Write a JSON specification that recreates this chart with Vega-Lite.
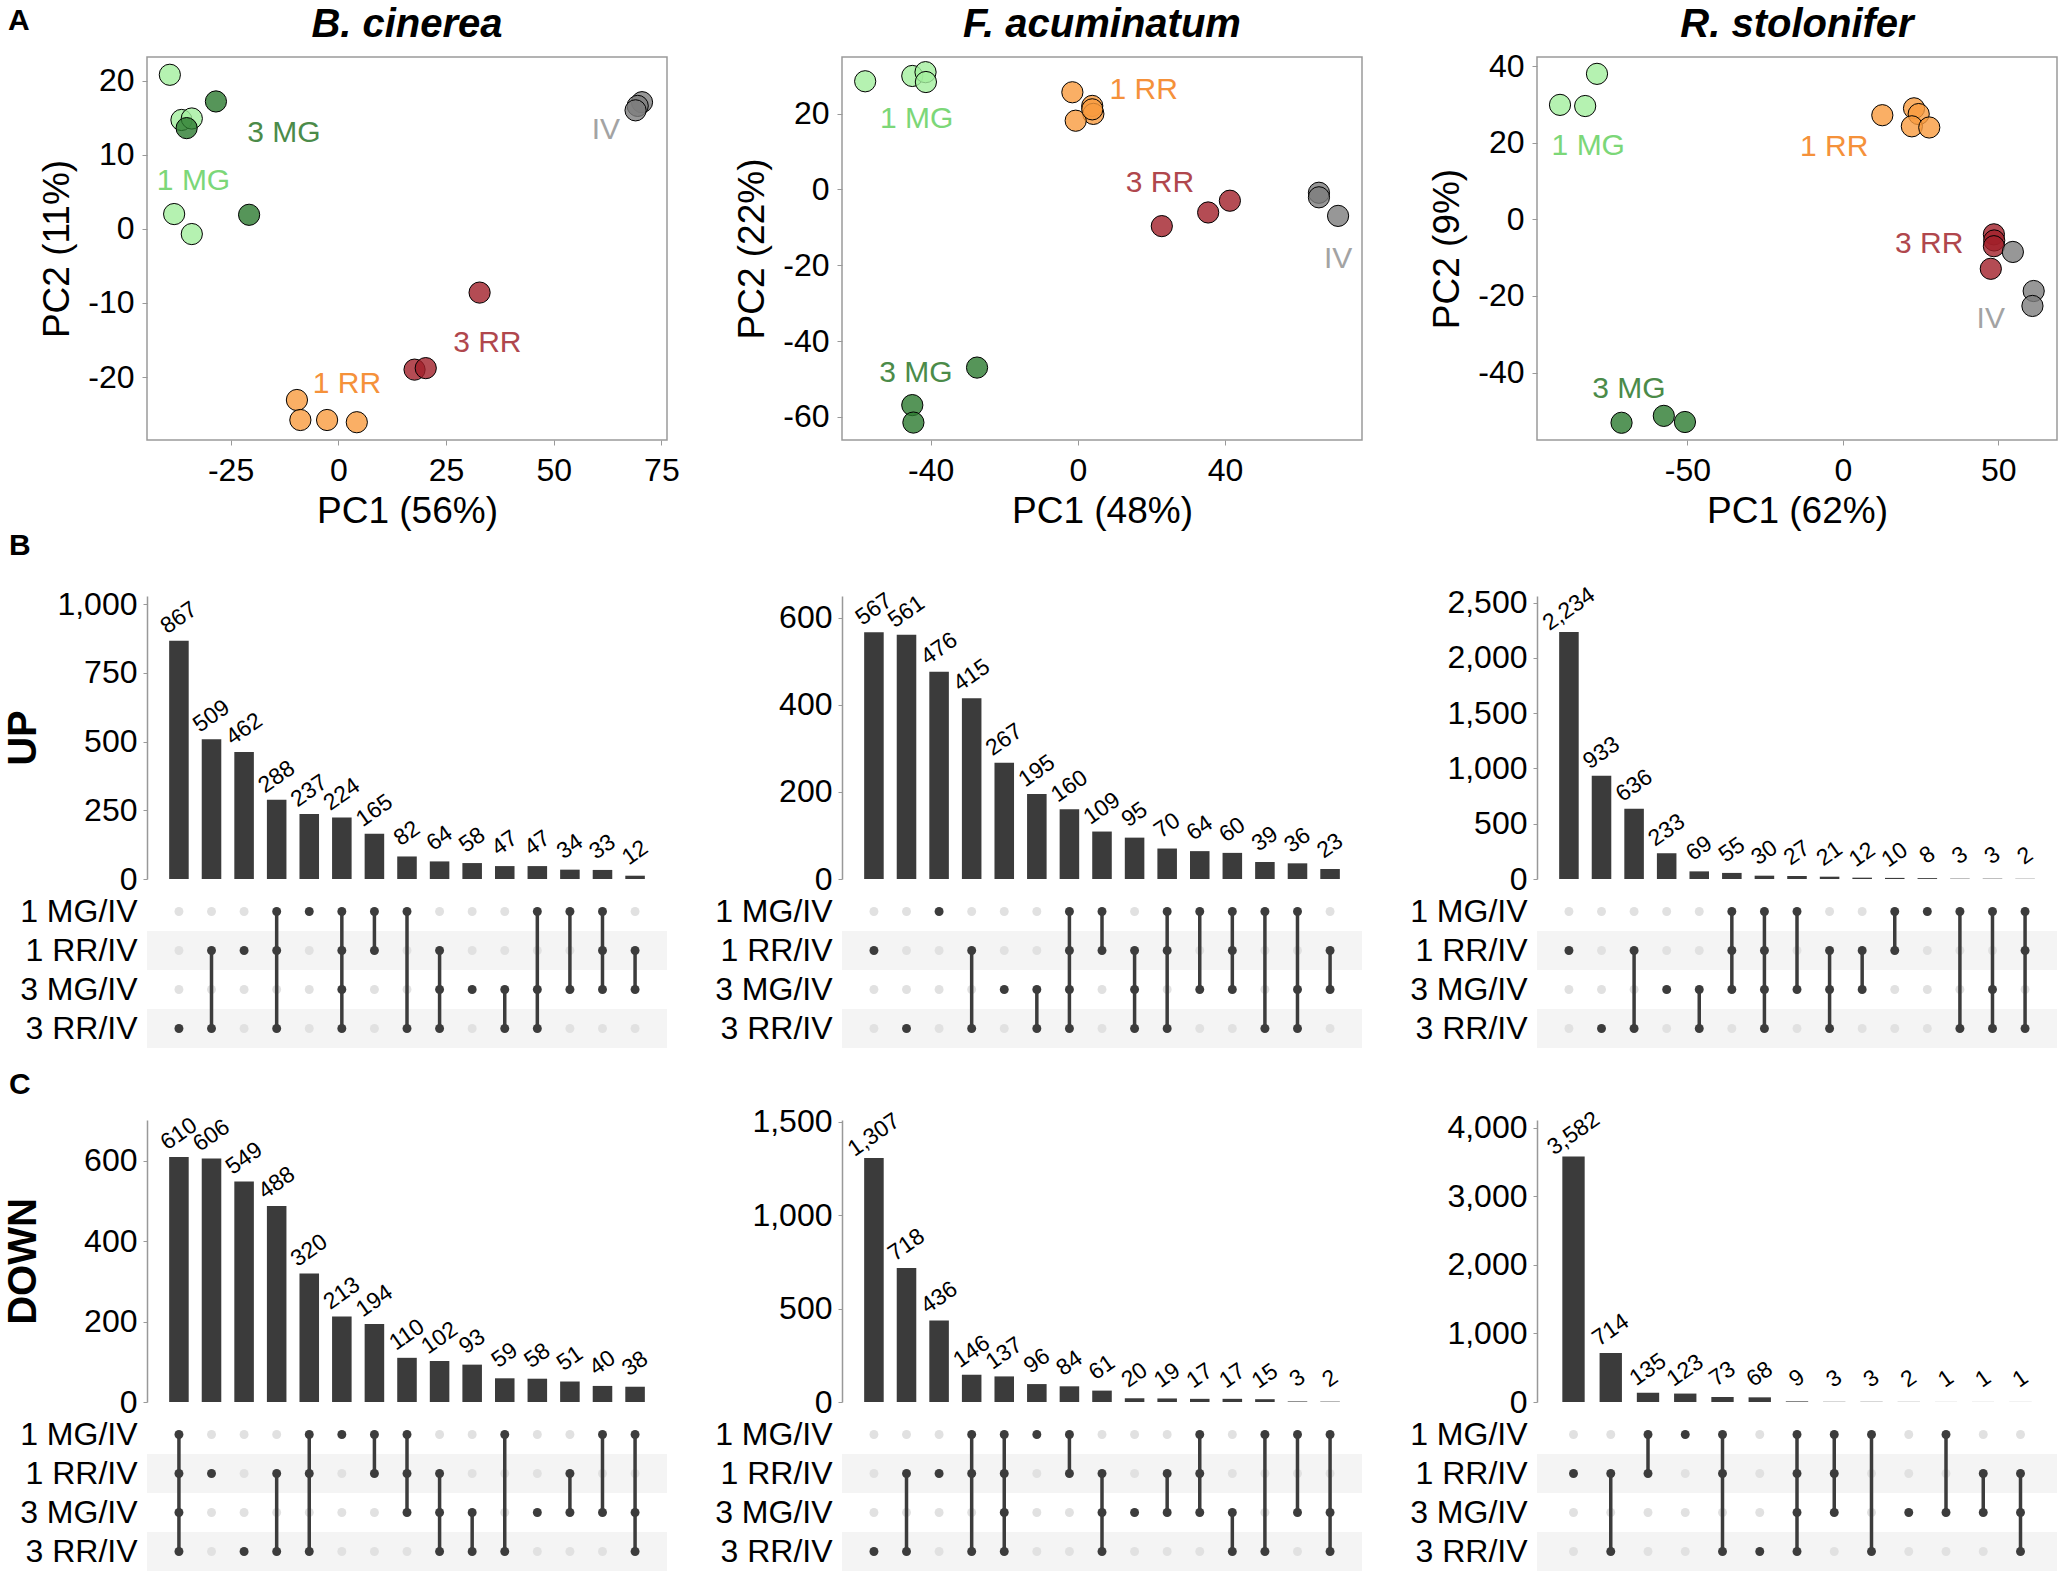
{
"$schema": "https://vega.github.io/schema/vega-lite/v6.json",
"background": "white",
"padding": {"left": 3, "top": 4, "right": 5, "bottom": 2},
"config": {
 "font": "Liberation Sans",
 "locale": {"number": {"decimal": ".", "thousands": ",", "grouping": [3], "currency": ["$", ""], "minus": "-"}},
 "view": {"stroke": null},
 "axis": {"labelColor": "black", "titleColor": "black", "grid": false, "tickColor": "#999999", "domainColor": "#999999", "labelFont": "Liberation Sans", "titleFont": "Liberation Sans", "titleFontWeight": "normal"},
 "title": {"font": "Liberation Sans", "color": "black"}
},
"datasets": {
 "stripes": [{"row": "1 RR/IV"}, {"row": "3 RR/IV"}],
 "pca": [
  {"sp":"Bc","grp":"1 MG","x":-39.1,"y":20.8},{"sp":"Bc","grp":"1 MG","x":-36.4,"y":14.7},{"sp":"Bc","grp":"1 MG","x":-34.0,"y":14.9},{"sp":"Bc","grp":"1 MG","x":-38.1,"y":2.0},{"sp":"Bc","grp":"1 MG","x":-34.0,"y":-0.7},
  {"sp":"Bc","grp":"3 MG","x":-28.4,"y":17.2},{"sp":"Bc","grp":"3 MG","x":-35.2,"y":13.6},{"sp":"Bc","grp":"3 MG","x":-20.7,"y":1.9},
  {"sp":"Bc","grp":"1 RR","x":-9.6,"y":-23.1},{"sp":"Bc","grp":"1 RR","x":-8.8,"y":-25.8},{"sp":"Bc","grp":"1 RR","x":-2.6,"y":-25.8},{"sp":"Bc","grp":"1 RR","x":4.3,"y":-26.1},
  {"sp":"Bc","grp":"3 RR","x":32.8,"y":-8.6},{"sp":"Bc","grp":"3 RR","x":17.7,"y":-19.0},{"sp":"Bc","grp":"3 RR","x":20.3,"y":-18.8},
  {"sp":"Bc","grp":"IV","x":70.5,"y":17.1},{"sp":"Bc","grp":"IV","x":69.5,"y":16.6},{"sp":"Bc","grp":"IV","x":69.0,"y":16.0},
  {"sp":"Fa","grp":"1 MG","x":-57.8,"y":28.5},{"sp":"Fa","grp":"1 MG","x":-45.0,"y":29.9},{"sp":"Fa","grp":"1 MG","x":-41.4,"y":30.9},{"sp":"Fa","grp":"1 MG","x":-41.3,"y":28.3},
  {"sp":"Fa","grp":"1 RR","x":-1.5,"y":25.6},{"sp":"Fa","grp":"1 RR","x":3.9,"y":22.0},{"sp":"Fa","grp":"1 RR","x":4.2,"y":19.9},{"sp":"Fa","grp":"1 RR","x":-0.6,"y":18.1},{"sp":"Fa","grp":"1 RR","x":3.9,"y":21.1},
  {"sp":"Fa","grp":"3 RR","x":22.8,"y":-9.7},{"sp":"Fa","grp":"3 RR","x":35.4,"y":-6.1},{"sp":"Fa","grp":"3 RR","x":41.3,"y":-3.0},
  {"sp":"Fa","grp":"IV","x":65.5,"y":-0.9},{"sp":"Fa","grp":"IV","x":65.5,"y":-2.1},{"sp":"Fa","grp":"IV","x":70.7,"y":-7.0},
  {"sp":"Fa","grp":"3 MG","x":-27.4,"y":-47.0},{"sp":"Fa","grp":"3 MG","x":-45.0,"y":-56.9},{"sp":"Fa","grp":"3 MG","x":-44.7,"y":-61.5},
  {"sp":"Rs","grp":"1 MG","x":-79.1,"y":38.0},{"sp":"Rs","grp":"1 MG","x":-91.0,"y":29.9},{"sp":"Rs","grp":"1 MG","x":-82.9,"y":29.6},
  {"sp":"Rs","grp":"1 RR","x":12.7,"y":27.2},{"sp":"Rs","grp":"1 RR","x":22.9,"y":29.0},{"sp":"Rs","grp":"1 RR","x":24.4,"y":27.5},{"sp":"Rs","grp":"1 RR","x":22.2,"y":24.3},{"sp":"Rs","grp":"1 RR","x":27.8,"y":24.0},
  {"sp":"Rs","grp":"3 RR","x":48.6,"y":-3.9},{"sp":"Rs","grp":"3 RR","x":48.7,"y":-5.5},{"sp":"Rs","grp":"3 RR","x":48.6,"y":-7.0},{"sp":"Rs","grp":"3 RR","x":47.6,"y":-12.9},
  {"sp":"Rs","grp":"IV","x":54.7,"y":-8.5},{"sp":"Rs","grp":"IV","x":61.4,"y":-18.7},{"sp":"Rs","grp":"IV","x":61.0,"y":-22.6},
  {"sp":"Rs","grp":"3 MG","x":-71.2,"y":-53.1},{"sp":"Rs","grp":"3 MG","x":-57.6,"y":-51.3},{"sp":"Rs","grp":"3 MG","x":-50.8,"y":-52.9}
 ],
 "pcalab": [
  {"sp":"Bc","grp":"3 MG","x":-12.6,"y":13.0},{"sp":"Bc","grp":"1 MG","x":-33.6,"y":6.5},{"sp":"Bc","grp":"IV","x":62.1,"y":13.4},{"sp":"Bc","grp":"3 RR","x":34.6,"y":-15.4},{"sp":"Bc","grp":"1 RR","x":2.0,"y":-21.0},
  {"sp":"Fa","grp":"1 RR","x":17.9,"y":26.3},{"sp":"Fa","grp":"1 MG","x":-43.8,"y":18.6},{"sp":"Fa","grp":"3 RR","x":22.3,"y":1.6},{"sp":"Fa","grp":"IV","x":70.7,"y":-18.3},{"sp":"Fa","grp":"3 MG","x":-44.0,"y":-48.3},
  {"sp":"Rs","grp":"1 MG","x":-81.9,"y":19.2},{"sp":"Rs","grp":"1 RR","x":-2.8,"y":18.9},{"sp":"Rs","grp":"3 RR","x":27.8,"y":-6.4},{"sp":"Rs","grp":"IV","x":47.6,"y":-25.9},{"sp":"Rs","grp":"3 MG","x":-68.8,"y":-44.2}
 ],
 "ups": [
  {"sp":"Bc","dir":"UP","col":1,"n":867,"1 MG/IV":0,"1 RR/IV":0,"3 MG/IV":0,"3 RR/IV":1,"lo":"3 RR/IV","hi":"3 RR/IV"},
  {"sp":"Bc","dir":"UP","col":2,"n":509,"1 MG/IV":0,"1 RR/IV":1,"3 MG/IV":0,"3 RR/IV":1,"lo":"1 RR/IV","hi":"3 RR/IV"},
  {"sp":"Bc","dir":"UP","col":3,"n":462,"1 MG/IV":0,"1 RR/IV":1,"3 MG/IV":0,"3 RR/IV":0,"lo":"1 RR/IV","hi":"1 RR/IV"},
  {"sp":"Bc","dir":"UP","col":4,"n":288,"1 MG/IV":1,"1 RR/IV":1,"3 MG/IV":0,"3 RR/IV":1,"lo":"1 MG/IV","hi":"3 RR/IV"},
  {"sp":"Bc","dir":"UP","col":5,"n":237,"1 MG/IV":1,"1 RR/IV":0,"3 MG/IV":0,"3 RR/IV":0,"lo":"1 MG/IV","hi":"1 MG/IV"},
  {"sp":"Bc","dir":"UP","col":6,"n":224,"1 MG/IV":1,"1 RR/IV":1,"3 MG/IV":1,"3 RR/IV":1,"lo":"1 MG/IV","hi":"3 RR/IV"},
  {"sp":"Bc","dir":"UP","col":7,"n":165,"1 MG/IV":1,"1 RR/IV":1,"3 MG/IV":0,"3 RR/IV":0,"lo":"1 MG/IV","hi":"1 RR/IV"},
  {"sp":"Bc","dir":"UP","col":8,"n":82,"1 MG/IV":1,"1 RR/IV":0,"3 MG/IV":0,"3 RR/IV":1,"lo":"1 MG/IV","hi":"3 RR/IV"},
  {"sp":"Bc","dir":"UP","col":9,"n":64,"1 MG/IV":0,"1 RR/IV":1,"3 MG/IV":1,"3 RR/IV":1,"lo":"1 RR/IV","hi":"3 RR/IV"},
  {"sp":"Bc","dir":"UP","col":10,"n":58,"1 MG/IV":0,"1 RR/IV":0,"3 MG/IV":1,"3 RR/IV":0,"lo":"3 MG/IV","hi":"3 MG/IV"},
  {"sp":"Bc","dir":"UP","col":11,"n":47,"1 MG/IV":0,"1 RR/IV":0,"3 MG/IV":1,"3 RR/IV":1,"lo":"3 MG/IV","hi":"3 RR/IV"},
  {"sp":"Bc","dir":"UP","col":12,"n":47,"1 MG/IV":1,"1 RR/IV":0,"3 MG/IV":1,"3 RR/IV":1,"lo":"1 MG/IV","hi":"3 RR/IV"},
  {"sp":"Bc","dir":"UP","col":13,"n":34,"1 MG/IV":1,"1 RR/IV":0,"3 MG/IV":1,"3 RR/IV":0,"lo":"1 MG/IV","hi":"3 MG/IV"},
  {"sp":"Bc","dir":"UP","col":14,"n":33,"1 MG/IV":1,"1 RR/IV":1,"3 MG/IV":1,"3 RR/IV":0,"lo":"1 MG/IV","hi":"3 MG/IV"},
  {"sp":"Bc","dir":"UP","col":15,"n":12,"1 MG/IV":0,"1 RR/IV":1,"3 MG/IV":1,"3 RR/IV":0,"lo":"1 RR/IV","hi":"3 MG/IV"},
  {"sp":"Fa","dir":"UP","col":1,"n":567,"1 MG/IV":0,"1 RR/IV":1,"3 MG/IV":0,"3 RR/IV":0,"lo":"1 RR/IV","hi":"1 RR/IV"},
  {"sp":"Fa","dir":"UP","col":2,"n":561,"1 MG/IV":0,"1 RR/IV":0,"3 MG/IV":0,"3 RR/IV":1,"lo":"3 RR/IV","hi":"3 RR/IV"},
  {"sp":"Fa","dir":"UP","col":3,"n":476,"1 MG/IV":1,"1 RR/IV":0,"3 MG/IV":0,"3 RR/IV":0,"lo":"1 MG/IV","hi":"1 MG/IV"},
  {"sp":"Fa","dir":"UP","col":4,"n":415,"1 MG/IV":0,"1 RR/IV":1,"3 MG/IV":0,"3 RR/IV":1,"lo":"1 RR/IV","hi":"3 RR/IV"},
  {"sp":"Fa","dir":"UP","col":5,"n":267,"1 MG/IV":0,"1 RR/IV":0,"3 MG/IV":1,"3 RR/IV":0,"lo":"3 MG/IV","hi":"3 MG/IV"},
  {"sp":"Fa","dir":"UP","col":6,"n":195,"1 MG/IV":0,"1 RR/IV":0,"3 MG/IV":1,"3 RR/IV":1,"lo":"3 MG/IV","hi":"3 RR/IV"},
  {"sp":"Fa","dir":"UP","col":7,"n":160,"1 MG/IV":1,"1 RR/IV":1,"3 MG/IV":1,"3 RR/IV":1,"lo":"1 MG/IV","hi":"3 RR/IV"},
  {"sp":"Fa","dir":"UP","col":8,"n":109,"1 MG/IV":1,"1 RR/IV":1,"3 MG/IV":0,"3 RR/IV":0,"lo":"1 MG/IV","hi":"1 RR/IV"},
  {"sp":"Fa","dir":"UP","col":9,"n":95,"1 MG/IV":0,"1 RR/IV":1,"3 MG/IV":1,"3 RR/IV":1,"lo":"1 RR/IV","hi":"3 RR/IV"},
  {"sp":"Fa","dir":"UP","col":10,"n":70,"1 MG/IV":1,"1 RR/IV":1,"3 MG/IV":0,"3 RR/IV":1,"lo":"1 MG/IV","hi":"3 RR/IV"},
  {"sp":"Fa","dir":"UP","col":11,"n":64,"1 MG/IV":1,"1 RR/IV":0,"3 MG/IV":1,"3 RR/IV":0,"lo":"1 MG/IV","hi":"3 MG/IV"},
  {"sp":"Fa","dir":"UP","col":12,"n":60,"1 MG/IV":1,"1 RR/IV":1,"3 MG/IV":1,"3 RR/IV":0,"lo":"1 MG/IV","hi":"3 MG/IV"},
  {"sp":"Fa","dir":"UP","col":13,"n":39,"1 MG/IV":1,"1 RR/IV":0,"3 MG/IV":0,"3 RR/IV":1,"lo":"1 MG/IV","hi":"3 RR/IV"},
  {"sp":"Fa","dir":"UP","col":14,"n":36,"1 MG/IV":1,"1 RR/IV":0,"3 MG/IV":1,"3 RR/IV":1,"lo":"1 MG/IV","hi":"3 RR/IV"},
  {"sp":"Fa","dir":"UP","col":15,"n":23,"1 MG/IV":0,"1 RR/IV":1,"3 MG/IV":1,"3 RR/IV":0,"lo":"1 RR/IV","hi":"3 MG/IV"},
  {"sp":"Rs","dir":"UP","col":1,"n":2234,"1 MG/IV":0,"1 RR/IV":1,"3 MG/IV":0,"3 RR/IV":0,"lo":"1 RR/IV","hi":"1 RR/IV"},
  {"sp":"Rs","dir":"UP","col":2,"n":933,"1 MG/IV":0,"1 RR/IV":0,"3 MG/IV":0,"3 RR/IV":1,"lo":"3 RR/IV","hi":"3 RR/IV"},
  {"sp":"Rs","dir":"UP","col":3,"n":636,"1 MG/IV":0,"1 RR/IV":1,"3 MG/IV":0,"3 RR/IV":1,"lo":"1 RR/IV","hi":"3 RR/IV"},
  {"sp":"Rs","dir":"UP","col":4,"n":233,"1 MG/IV":0,"1 RR/IV":0,"3 MG/IV":1,"3 RR/IV":0,"lo":"3 MG/IV","hi":"3 MG/IV"},
  {"sp":"Rs","dir":"UP","col":5,"n":69,"1 MG/IV":0,"1 RR/IV":0,"3 MG/IV":1,"3 RR/IV":1,"lo":"3 MG/IV","hi":"3 RR/IV"},
  {"sp":"Rs","dir":"UP","col":6,"n":55,"1 MG/IV":1,"1 RR/IV":1,"3 MG/IV":1,"3 RR/IV":0,"lo":"1 MG/IV","hi":"3 MG/IV"},
  {"sp":"Rs","dir":"UP","col":7,"n":30,"1 MG/IV":1,"1 RR/IV":1,"3 MG/IV":1,"3 RR/IV":1,"lo":"1 MG/IV","hi":"3 RR/IV"},
  {"sp":"Rs","dir":"UP","col":8,"n":27,"1 MG/IV":1,"1 RR/IV":0,"3 MG/IV":1,"3 RR/IV":0,"lo":"1 MG/IV","hi":"3 MG/IV"},
  {"sp":"Rs","dir":"UP","col":9,"n":21,"1 MG/IV":0,"1 RR/IV":1,"3 MG/IV":1,"3 RR/IV":1,"lo":"1 RR/IV","hi":"3 RR/IV"},
  {"sp":"Rs","dir":"UP","col":10,"n":12,"1 MG/IV":0,"1 RR/IV":1,"3 MG/IV":1,"3 RR/IV":0,"lo":"1 RR/IV","hi":"3 MG/IV"},
  {"sp":"Rs","dir":"UP","col":11,"n":10,"1 MG/IV":1,"1 RR/IV":1,"3 MG/IV":0,"3 RR/IV":0,"lo":"1 MG/IV","hi":"1 RR/IV"},
  {"sp":"Rs","dir":"UP","col":12,"n":8,"1 MG/IV":1,"1 RR/IV":0,"3 MG/IV":0,"3 RR/IV":0,"lo":"1 MG/IV","hi":"1 MG/IV"},
  {"sp":"Rs","dir":"UP","col":13,"n":3,"1 MG/IV":1,"1 RR/IV":0,"3 MG/IV":0,"3 RR/IV":1,"lo":"1 MG/IV","hi":"3 RR/IV"},
  {"sp":"Rs","dir":"UP","col":14,"n":3,"1 MG/IV":1,"1 RR/IV":0,"3 MG/IV":1,"3 RR/IV":1,"lo":"1 MG/IV","hi":"3 RR/IV"},
  {"sp":"Rs","dir":"UP","col":15,"n":2,"1 MG/IV":1,"1 RR/IV":1,"3 MG/IV":0,"3 RR/IV":1,"lo":"1 MG/IV","hi":"3 RR/IV"},
  {"sp":"Bc","dir":"DOWN","col":1,"n":610,"1 MG/IV":1,"1 RR/IV":1,"3 MG/IV":1,"3 RR/IV":1,"lo":"1 MG/IV","hi":"3 RR/IV"},
  {"sp":"Bc","dir":"DOWN","col":2,"n":606,"1 MG/IV":0,"1 RR/IV":1,"3 MG/IV":0,"3 RR/IV":0,"lo":"1 RR/IV","hi":"1 RR/IV"},
  {"sp":"Bc","dir":"DOWN","col":3,"n":549,"1 MG/IV":0,"1 RR/IV":0,"3 MG/IV":0,"3 RR/IV":1,"lo":"3 RR/IV","hi":"3 RR/IV"},
  {"sp":"Bc","dir":"DOWN","col":4,"n":488,"1 MG/IV":0,"1 RR/IV":1,"3 MG/IV":0,"3 RR/IV":1,"lo":"1 RR/IV","hi":"3 RR/IV"},
  {"sp":"Bc","dir":"DOWN","col":5,"n":320,"1 MG/IV":1,"1 RR/IV":1,"3 MG/IV":0,"3 RR/IV":1,"lo":"1 MG/IV","hi":"3 RR/IV"},
  {"sp":"Bc","dir":"DOWN","col":6,"n":213,"1 MG/IV":1,"1 RR/IV":0,"3 MG/IV":0,"3 RR/IV":0,"lo":"1 MG/IV","hi":"1 MG/IV"},
  {"sp":"Bc","dir":"DOWN","col":7,"n":194,"1 MG/IV":1,"1 RR/IV":1,"3 MG/IV":0,"3 RR/IV":0,"lo":"1 MG/IV","hi":"1 RR/IV"},
  {"sp":"Bc","dir":"DOWN","col":8,"n":110,"1 MG/IV":1,"1 RR/IV":1,"3 MG/IV":1,"3 RR/IV":0,"lo":"1 MG/IV","hi":"3 MG/IV"},
  {"sp":"Bc","dir":"DOWN","col":9,"n":102,"1 MG/IV":0,"1 RR/IV":1,"3 MG/IV":1,"3 RR/IV":1,"lo":"1 RR/IV","hi":"3 RR/IV"},
  {"sp":"Bc","dir":"DOWN","col":10,"n":93,"1 MG/IV":0,"1 RR/IV":0,"3 MG/IV":1,"3 RR/IV":1,"lo":"3 MG/IV","hi":"3 RR/IV"},
  {"sp":"Bc","dir":"DOWN","col":11,"n":59,"1 MG/IV":1,"1 RR/IV":0,"3 MG/IV":0,"3 RR/IV":1,"lo":"1 MG/IV","hi":"3 RR/IV"},
  {"sp":"Bc","dir":"DOWN","col":12,"n":58,"1 MG/IV":0,"1 RR/IV":0,"3 MG/IV":1,"3 RR/IV":0,"lo":"3 MG/IV","hi":"3 MG/IV"},
  {"sp":"Bc","dir":"DOWN","col":13,"n":51,"1 MG/IV":0,"1 RR/IV":1,"3 MG/IV":1,"3 RR/IV":0,"lo":"1 RR/IV","hi":"3 MG/IV"},
  {"sp":"Bc","dir":"DOWN","col":14,"n":40,"1 MG/IV":1,"1 RR/IV":0,"3 MG/IV":1,"3 RR/IV":0,"lo":"1 MG/IV","hi":"3 MG/IV"},
  {"sp":"Bc","dir":"DOWN","col":15,"n":38,"1 MG/IV":1,"1 RR/IV":0,"3 MG/IV":1,"3 RR/IV":1,"lo":"1 MG/IV","hi":"3 RR/IV"},
  {"sp":"Fa","dir":"DOWN","col":1,"n":1307,"1 MG/IV":0,"1 RR/IV":0,"3 MG/IV":0,"3 RR/IV":1,"lo":"3 RR/IV","hi":"3 RR/IV"},
  {"sp":"Fa","dir":"DOWN","col":2,"n":718,"1 MG/IV":0,"1 RR/IV":1,"3 MG/IV":0,"3 RR/IV":1,"lo":"1 RR/IV","hi":"3 RR/IV"},
  {"sp":"Fa","dir":"DOWN","col":3,"n":436,"1 MG/IV":0,"1 RR/IV":1,"3 MG/IV":0,"3 RR/IV":0,"lo":"1 RR/IV","hi":"1 RR/IV"},
  {"sp":"Fa","dir":"DOWN","col":4,"n":146,"1 MG/IV":1,"1 RR/IV":1,"3 MG/IV":0,"3 RR/IV":1,"lo":"1 MG/IV","hi":"3 RR/IV"},
  {"sp":"Fa","dir":"DOWN","col":5,"n":137,"1 MG/IV":1,"1 RR/IV":1,"3 MG/IV":1,"3 RR/IV":1,"lo":"1 MG/IV","hi":"3 RR/IV"},
  {"sp":"Fa","dir":"DOWN","col":6,"n":96,"1 MG/IV":1,"1 RR/IV":0,"3 MG/IV":0,"3 RR/IV":0,"lo":"1 MG/IV","hi":"1 MG/IV"},
  {"sp":"Fa","dir":"DOWN","col":7,"n":84,"1 MG/IV":1,"1 RR/IV":1,"3 MG/IV":0,"3 RR/IV":0,"lo":"1 MG/IV","hi":"1 RR/IV"},
  {"sp":"Fa","dir":"DOWN","col":8,"n":61,"1 MG/IV":0,"1 RR/IV":1,"3 MG/IV":1,"3 RR/IV":1,"lo":"1 RR/IV","hi":"3 RR/IV"},
  {"sp":"Fa","dir":"DOWN","col":9,"n":20,"1 MG/IV":0,"1 RR/IV":0,"3 MG/IV":1,"3 RR/IV":0,"lo":"3 MG/IV","hi":"3 MG/IV"},
  {"sp":"Fa","dir":"DOWN","col":10,"n":19,"1 MG/IV":0,"1 RR/IV":1,"3 MG/IV":1,"3 RR/IV":0,"lo":"1 RR/IV","hi":"3 MG/IV"},
  {"sp":"Fa","dir":"DOWN","col":11,"n":17,"1 MG/IV":1,"1 RR/IV":1,"3 MG/IV":1,"3 RR/IV":0,"lo":"1 MG/IV","hi":"3 MG/IV"},
  {"sp":"Fa","dir":"DOWN","col":12,"n":17,"1 MG/IV":0,"1 RR/IV":0,"3 MG/IV":1,"3 RR/IV":1,"lo":"3 MG/IV","hi":"3 RR/IV"},
  {"sp":"Fa","dir":"DOWN","col":13,"n":15,"1 MG/IV":1,"1 RR/IV":0,"3 MG/IV":0,"3 RR/IV":1,"lo":"1 MG/IV","hi":"3 RR/IV"},
  {"sp":"Fa","dir":"DOWN","col":14,"n":3,"1 MG/IV":1,"1 RR/IV":0,"3 MG/IV":1,"3 RR/IV":0,"lo":"1 MG/IV","hi":"3 MG/IV"},
  {"sp":"Fa","dir":"DOWN","col":15,"n":2,"1 MG/IV":1,"1 RR/IV":0,"3 MG/IV":1,"3 RR/IV":1,"lo":"1 MG/IV","hi":"3 RR/IV"},
  {"sp":"Rs","dir":"DOWN","col":1,"n":3582,"1 MG/IV":0,"1 RR/IV":1,"3 MG/IV":0,"3 RR/IV":0,"lo":"1 RR/IV","hi":"1 RR/IV"},
  {"sp":"Rs","dir":"DOWN","col":2,"n":714,"1 MG/IV":0,"1 RR/IV":1,"3 MG/IV":0,"3 RR/IV":1,"lo":"1 RR/IV","hi":"3 RR/IV"},
  {"sp":"Rs","dir":"DOWN","col":3,"n":135,"1 MG/IV":1,"1 RR/IV":1,"3 MG/IV":0,"3 RR/IV":0,"lo":"1 MG/IV","hi":"1 RR/IV"},
  {"sp":"Rs","dir":"DOWN","col":4,"n":123,"1 MG/IV":1,"1 RR/IV":0,"3 MG/IV":0,"3 RR/IV":0,"lo":"1 MG/IV","hi":"1 MG/IV"},
  {"sp":"Rs","dir":"DOWN","col":5,"n":73,"1 MG/IV":1,"1 RR/IV":1,"3 MG/IV":0,"3 RR/IV":1,"lo":"1 MG/IV","hi":"3 RR/IV"},
  {"sp":"Rs","dir":"DOWN","col":6,"n":68,"1 MG/IV":0,"1 RR/IV":0,"3 MG/IV":0,"3 RR/IV":1,"lo":"3 RR/IV","hi":"3 RR/IV"},
  {"sp":"Rs","dir":"DOWN","col":7,"n":9,"1 MG/IV":1,"1 RR/IV":1,"3 MG/IV":1,"3 RR/IV":1,"lo":"1 MG/IV","hi":"3 RR/IV"},
  {"sp":"Rs","dir":"DOWN","col":8,"n":3,"1 MG/IV":1,"1 RR/IV":1,"3 MG/IV":1,"3 RR/IV":0,"lo":"1 MG/IV","hi":"3 MG/IV"},
  {"sp":"Rs","dir":"DOWN","col":9,"n":3,"1 MG/IV":1,"1 RR/IV":0,"3 MG/IV":0,"3 RR/IV":1,"lo":"1 MG/IV","hi":"3 RR/IV"},
  {"sp":"Rs","dir":"DOWN","col":10,"n":2,"1 MG/IV":0,"1 RR/IV":0,"3 MG/IV":1,"3 RR/IV":0,"lo":"3 MG/IV","hi":"3 MG/IV"},
  {"sp":"Rs","dir":"DOWN","col":11,"n":1,"1 MG/IV":1,"1 RR/IV":0,"3 MG/IV":1,"3 RR/IV":0,"lo":"1 MG/IV","hi":"3 MG/IV"},
  {"sp":"Rs","dir":"DOWN","col":12,"n":1,"1 MG/IV":0,"1 RR/IV":1,"3 MG/IV":1,"3 RR/IV":0,"lo":"1 RR/IV","hi":"3 MG/IV"},
  {"sp":"Rs","dir":"DOWN","col":13,"n":1,"1 MG/IV":0,"1 RR/IV":1,"3 MG/IV":1,"3 RR/IV":1,"lo":"1 RR/IV","hi":"3 RR/IV"}
 ]
},
"columns": 3,
"spacing": {"row": 13, "column": 175},
"bounds": "flush",
"concat": [
 {"width": 520, "height": 1, "title": {"text": "A", "anchor": "start", "frame": "group", "orient": "top", "offset": 7, "dx": -139, "fontSize": 30, "fontWeight": "bold"}, "data": {"values": []}, "mark": "point", "encoding": {}},
 {"width": 520, "height": 1, "data": {"values": []}, "mark": "point", "encoding": {}},
 {"width": 520, "height": 1, "data": {"values": []}, "mark": "point", "encoding": {}},

 {"width": 520, "height": 383, "view": {"stroke": "#9a9a9a", "strokeWidth": 1.5},
  "title": {"text": "B. cinerea", "fontSize": 40, "fontStyle": "italic", "fontWeight": "bold", "frame": "group", "anchor": "middle", "offset": 12},
  "layer": [
   {"data": {"name": "pca"}, "transform": [{"filter": {"field": "sp", "equal": "Bc"}}],
    "mark": {"type": "circle", "size": 450, "stroke": "black", "strokeWidth": 1, "fillOpacity": 0.8},
    "encoding": {
     "x": {"field": "x", "type": "quantitative", "scale": {"domain": [-44.4, 76.3], "nice": false, "zero": false}, "axis": {"title": "PC1 (56%)", "values": [-25, 0, 25, 50, 75], "domain": false, "tickSize": 5, "labelFontSize": 32, "titleFontSize": 37, "labelPadding": 10, "titlePadding": 7}},
     "y": {"field": "y", "type": "quantitative", "scale": {"domain": [-28.5, 23.2], "nice": false, "zero": false}, "axis": {"title": "PC2 (11%)", "values": [-20, -10, 0, 10, 20], "domain": false, "tickSize": 5, "labelFontSize": 32, "titleFontSize": 37, "labelPadding": 8, "titlePadding": 11}},
     "fill": {"field": "grp", "type": "nominal", "scale": {"domain": ["1 MG", "3 MG", "1 RR", "3 RR", "IV"], "range": ["#a3ef9d", "#2c7a2f", "#f99b3e", "#a11f29", "#7d7d7d"]}, "legend": null}
    }},
   {"data": {"name": "pcalab"}, "transform": [{"filter": {"field": "sp", "equal": "Bc"}}],
    "mark": {"type": "text", "fontSize": 30, "align": "center", "baseline": "middle"},
    "encoding": {
     "x": {"field": "x", "type": "quantitative"}, "y": {"field": "y", "type": "quantitative"}, "text": {"field": "grp"},
     "color": {"field": "grp", "type": "nominal", "scale": {"domain": ["1 MG", "3 MG", "1 RR", "3 RR", "IV"], "range": ["#7cd778", "#4b8b49", "#f5913a", "#b0474d", "#a3a3a3"]}, "legend": null}
    }}
  ]},
 {"width": 520, "height": 383, "view": {"stroke": "#9a9a9a", "strokeWidth": 1.5},
  "title": {"text": "F. acuminatum", "fontSize": 40, "fontStyle": "italic", "fontWeight": "bold", "frame": "group", "anchor": "middle", "offset": 12},
  "layer": [
   {"data": {"name": "pca"}, "transform": [{"filter": {"field": "sp", "equal": "Fa"}}],
    "mark": {"type": "circle", "size": 450, "stroke": "black", "strokeWidth": 1, "fillOpacity": 0.8},
    "encoding": {
     "x": {"field": "x", "type": "quantitative", "scale": {"domain": [-64.1, 77.2], "nice": false, "zero": false}, "axis": {"title": "PC1 (48%)", "values": [-40, 0, 40], "domain": false, "tickSize": 5, "labelFontSize": 32, "titleFontSize": 37, "labelPadding": 10, "titlePadding": 7}},
     "y": {"field": "y", "type": "quantitative", "scale": {"domain": [-66.1, 34.9], "nice": false, "zero": false}, "axis": {"title": "PC2 (22%)", "values": [-60, -40, -20, 0, 20], "domain": false, "tickSize": 5, "labelFontSize": 32, "titleFontSize": 37, "labelPadding": 8, "titlePadding": 11}},
     "fill": {"field": "grp", "type": "nominal", "scale": {"domain": ["1 MG", "3 MG", "1 RR", "3 RR", "IV"], "range": ["#a3ef9d", "#2c7a2f", "#f99b3e", "#a11f29", "#7d7d7d"]}, "legend": null}
    }},
   {"data": {"name": "pcalab"}, "transform": [{"filter": {"field": "sp", "equal": "Fa"}}],
    "mark": {"type": "text", "fontSize": 30, "align": "center", "baseline": "middle"},
    "encoding": {
     "x": {"field": "x", "type": "quantitative"}, "y": {"field": "y", "type": "quantitative"}, "text": {"field": "grp"},
     "color": {"field": "grp", "type": "nominal", "scale": {"domain": ["1 MG", "3 MG", "1 RR", "3 RR", "IV"], "range": ["#7cd778", "#4b8b49", "#f5913a", "#b0474d", "#a3a3a3"]}, "legend": null}
    }}
  ]},
 {"width": 520, "height": 383, "view": {"stroke": "#9a9a9a", "strokeWidth": 1.5},
  "title": {"text": "R. stolonifer", "fontSize": 40, "fontStyle": "italic", "fontWeight": "bold", "frame": "group", "anchor": "middle", "offset": 5},
  "layer": [
   {"data": {"name": "pca"}, "transform": [{"filter": {"field": "sp", "equal": "Rs"}}],
    "mark": {"type": "circle", "size": 450, "stroke": "black", "strokeWidth": 1, "fillOpacity": 0.8},
    "encoding": {
     "x": {"field": "x", "type": "quantitative", "scale": {"domain": [-98.4, 68.9], "nice": false, "zero": false}, "axis": {"title": "PC1 (62%)", "values": [-50, 0, 50], "domain": false, "tickSize": 5, "labelFontSize": 32, "titleFontSize": 37, "labelPadding": 10, "titlePadding": 7}},
     "y": {"field": "y", "type": "quantitative", "scale": {"domain": [-57.6, 42.4], "nice": false, "zero": false}, "axis": {"title": "PC2 (9%)", "values": [-40, -20, 0, 20, 40], "domain": false, "tickSize": 5, "labelFontSize": 32, "titleFontSize": 37, "labelPadding": 8, "titlePadding": 11}},
     "fill": {"field": "grp", "type": "nominal", "scale": {"domain": ["1 MG", "3 MG", "1 RR", "3 RR", "IV"], "range": ["#a3ef9d", "#2c7a2f", "#f99b3e", "#a11f29", "#7d7d7d"]}, "legend": null}
    }},
   {"data": {"name": "pcalab"}, "transform": [{"filter": {"field": "sp", "equal": "Rs"}}],
    "mark": {"type": "text", "fontSize": 30, "align": "center", "baseline": "middle"},
    "encoding": {
     "x": {"field": "x", "type": "quantitative"}, "y": {"field": "y", "type": "quantitative"}, "text": {"field": "grp"},
     "color": {"field": "grp", "type": "nominal", "scale": {"domain": ["1 MG", "3 MG", "1 RR", "3 RR", "IV"], "range": ["#7cd778", "#4b8b49", "#f5913a", "#b0474d", "#a3a3a3"]}, "legend": null}
    }}
  ]},

 {"width": 520, "height": 130, "data": {"values": []}, "mark": "point", "encoding": {}},
 {"width": 520, "height": 130, "data": {"values": []}, "mark": "point", "encoding": {}},
 {"width": 520, "height": 130, "data": {"values": []}, "mark": "point", "encoding": {}},

 {"width": 520, "height": 283,
  "title": {"text": "B", "anchor": "start", "frame": "group", "orient": "top", "offset": 27, "dx": -138, "fontSize": 30, "fontWeight": "bold"},
  "data": {"name": "ups"}, "transform": [{"filter": {"and": [{"field": "sp", "equal": "Bc"}, {"field": "dir", "equal": "UP"}]}}],
  "encoding": {"x": {"field": "col", "type": "ordinal", "scale": {"type": "band", "domain": [1,2,3,4,5,6,7,8,9,10,11,12,13,14,15], "paddingInner": 0.4, "paddingOuter": 0.68}, "axis": null}},
  "layer": [
   {"mark": {"type": "bar", "color": "#3b3b3b"}, "encoding": {"y": {"field": "n", "type": "quantitative", "scale": {"domain": [0, 1030], "nice": false}, "axis": {"title": "UP", "titleFontSize": 40, "titleFontWeight": "bold", "titleX": -104, "values": [0, 250, 500, 750, 1000], "format": ",.0f", "labelFontSize": 32, "tickSize": 4, "labelPadding": 6, "domainWidth": 1.5}}}},
   {"mark": {"type": "text", "angle": 325, "align": "center", "baseline": "middle", "dx": 13.2, "dy": -18.8, "fontSize": 23}, "encoding": {"y": {"field": "n", "type": "quantitative"}, "text": {"field": "n", "type": "quantitative", "format": ",.0f"}}}
  ]},
 {"width": 520, "height": 283,
  "data": {"name": "ups"}, "transform": [{"filter": {"and": [{"field": "sp", "equal": "Fa"}, {"field": "dir", "equal": "UP"}]}}],
  "encoding": {"x": {"field": "col", "type": "ordinal", "scale": {"type": "band", "domain": [1,2,3,4,5,6,7,8,9,10,11,12,13,14,15], "paddingInner": 0.4, "paddingOuter": 0.68}, "axis": null}},
  "layer": [
   {"mark": {"type": "bar", "color": "#3b3b3b"}, "encoding": {"y": {"field": "n", "type": "quantitative", "scale": {"domain": [0, 650], "nice": false}, "axis": {"title": null, "values": [0, 200, 400, 600], "format": ",.0f", "labelFontSize": 32, "tickSize": 4, "labelPadding": 6, "domainWidth": 1.5}}}},
   {"mark": {"type": "text", "angle": 325, "align": "center", "baseline": "middle", "dx": 13.2, "dy": -18.8, "fontSize": 23}, "encoding": {"y": {"field": "n", "type": "quantitative"}, "text": {"field": "n", "type": "quantitative", "format": ",.0f"}}}
  ]},
 {"width": 520, "height": 283,
  "data": {"name": "ups"}, "transform": [{"filter": {"and": [{"field": "sp", "equal": "Rs"}, {"field": "dir", "equal": "UP"}]}}],
  "encoding": {"x": {"field": "col", "type": "ordinal", "scale": {"type": "band", "domain": [1,2,3,4,5,6,7,8,9,10,11,12,13,14,15], "paddingInner": 0.4, "paddingOuter": 0.68}, "axis": null}},
  "layer": [
   {"mark": {"type": "bar", "color": "#3b3b3b"}, "encoding": {"y": {"field": "n", "type": "quantitative", "scale": {"domain": [0, 2560], "nice": false}, "axis": {"title": null, "values": [0, 500, 1000, 1500, 2000, 2500], "format": ",.0f", "labelFontSize": 32, "tickSize": 4, "labelPadding": 6, "domainWidth": 1.5}}}},
   {"mark": {"type": "text", "angle": 325, "align": "center", "baseline": "middle", "dx": 13.2, "dy": -18.8, "fontSize": 23}, "encoding": {"y": {"field": "n", "type": "quantitative"}, "text": {"field": "n", "type": "quantitative", "format": ",.0f"}}}
  ]},

 {"width": 520, "height": 156,
  "layer": [
   {"data": {"name": "stripes"}, "mark": {"type": "rect", "color": "#f4f4f4"},
    "encoding": {"y": {"field": "row", "type": "nominal", "scale": {"type": "band", "domain": ["1 MG/IV", "1 RR/IV", "3 MG/IV", "3 RR/IV"], "paddingInner": 0, "paddingOuter": 0}, "axis": {"title": null, "domain": false, "ticks": false, "labelFontSize": 32, "labelPadding": 10}}}},
   {"data": {"name": "ups"}, "transform": [{"filter": {"and": [{"field": "sp", "equal": "Bc"}, {"field": "dir", "equal": "UP"}]}}, {"fold": ["1 MG/IV", "1 RR/IV", "3 MG/IV", "3 RR/IV"], "as": ["row", "on"]}, {"filter": {"field": "on", "equal": 0}}],
    "mark": {"type": "circle", "size": 80, "color": "#e1e1e1", "opacity": 1},
    "encoding": {"x": {"field": "col", "type": "ordinal", "scale": {"type": "band", "domain": [1,2,3,4,5,6,7,8,9,10,11,12,13,14,15], "paddingInner": 0.4, "paddingOuter": 0.68}, "axis": null}, "y": {"field": "row", "type": "nominal"}}},
   {"data": {"name": "ups"}, "transform": [{"filter": {"and": [{"field": "sp", "equal": "Bc"}, {"field": "dir", "equal": "UP"}]}}],
    "mark": {"type": "rule", "color": "#3c3c3c", "strokeWidth": 3.5},
    "encoding": {"x": {"field": "col", "type": "ordinal"}, "y": {"field": "lo", "type": "nominal"}, "y2": {"field": "hi"}}},
   {"data": {"name": "ups"}, "transform": [{"filter": {"and": [{"field": "sp", "equal": "Bc"}, {"field": "dir", "equal": "UP"}]}}, {"fold": ["1 MG/IV", "1 RR/IV", "3 MG/IV", "3 RR/IV"], "as": ["row", "on"]}, {"filter": {"field": "on", "equal": 1}}],
    "mark": {"type": "circle", "size": 80, "color": "#3c3c3c", "opacity": 1},
    "encoding": {"x": {"field": "col", "type": "ordinal"}, "y": {"field": "row", "type": "nominal"}}}
  ]},
 {"width": 520, "height": 156,
  "layer": [
   {"data": {"name": "stripes"}, "mark": {"type": "rect", "color": "#f4f4f4"},
    "encoding": {"y": {"field": "row", "type": "nominal", "scale": {"type": "band", "domain": ["1 MG/IV", "1 RR/IV", "3 MG/IV", "3 RR/IV"], "paddingInner": 0, "paddingOuter": 0}, "axis": {"title": null, "domain": false, "ticks": false, "labelFontSize": 32, "labelPadding": 10}}}},
   {"data": {"name": "ups"}, "transform": [{"filter": {"and": [{"field": "sp", "equal": "Fa"}, {"field": "dir", "equal": "UP"}]}}, {"fold": ["1 MG/IV", "1 RR/IV", "3 MG/IV", "3 RR/IV"], "as": ["row", "on"]}, {"filter": {"field": "on", "equal": 0}}],
    "mark": {"type": "circle", "size": 80, "color": "#e1e1e1", "opacity": 1},
    "encoding": {"x": {"field": "col", "type": "ordinal", "scale": {"type": "band", "domain": [1,2,3,4,5,6,7,8,9,10,11,12,13,14,15], "paddingInner": 0.4, "paddingOuter": 0.68}, "axis": null}, "y": {"field": "row", "type": "nominal"}}},
   {"data": {"name": "ups"}, "transform": [{"filter": {"and": [{"field": "sp", "equal": "Fa"}, {"field": "dir", "equal": "UP"}]}}],
    "mark": {"type": "rule", "color": "#3c3c3c", "strokeWidth": 3.5},
    "encoding": {"x": {"field": "col", "type": "ordinal"}, "y": {"field": "lo", "type": "nominal"}, "y2": {"field": "hi"}}},
   {"data": {"name": "ups"}, "transform": [{"filter": {"and": [{"field": "sp", "equal": "Fa"}, {"field": "dir", "equal": "UP"}]}}, {"fold": ["1 MG/IV", "1 RR/IV", "3 MG/IV", "3 RR/IV"], "as": ["row", "on"]}, {"filter": {"field": "on", "equal": 1}}],
    "mark": {"type": "circle", "size": 80, "color": "#3c3c3c", "opacity": 1},
    "encoding": {"x": {"field": "col", "type": "ordinal"}, "y": {"field": "row", "type": "nominal"}}}
  ]},
 {"width": 520, "height": 156,
  "layer": [
   {"data": {"name": "stripes"}, "mark": {"type": "rect", "color": "#f4f4f4"},
    "encoding": {"y": {"field": "row", "type": "nominal", "scale": {"type": "band", "domain": ["1 MG/IV", "1 RR/IV", "3 MG/IV", "3 RR/IV"], "paddingInner": 0, "paddingOuter": 0}, "axis": {"title": null, "domain": false, "ticks": false, "labelFontSize": 32, "labelPadding": 10}}}},
   {"data": {"name": "ups"}, "transform": [{"filter": {"and": [{"field": "sp", "equal": "Rs"}, {"field": "dir", "equal": "UP"}]}}, {"fold": ["1 MG/IV", "1 RR/IV", "3 MG/IV", "3 RR/IV"], "as": ["row", "on"]}, {"filter": {"field": "on", "equal": 0}}],
    "mark": {"type": "circle", "size": 80, "color": "#e1e1e1", "opacity": 1},
    "encoding": {"x": {"field": "col", "type": "ordinal", "scale": {"type": "band", "domain": [1,2,3,4,5,6,7,8,9,10,11,12,13,14,15], "paddingInner": 0.4, "paddingOuter": 0.68}, "axis": null}, "y": {"field": "row", "type": "nominal"}}},
   {"data": {"name": "ups"}, "transform": [{"filter": {"and": [{"field": "sp", "equal": "Rs"}, {"field": "dir", "equal": "UP"}]}}],
    "mark": {"type": "rule", "color": "#3c3c3c", "strokeWidth": 3.5},
    "encoding": {"x": {"field": "col", "type": "ordinal"}, "y": {"field": "lo", "type": "nominal"}, "y2": {"field": "hi"}}},
   {"data": {"name": "ups"}, "transform": [{"filter": {"and": [{"field": "sp", "equal": "Rs"}, {"field": "dir", "equal": "UP"}]}}, {"fold": ["1 MG/IV", "1 RR/IV", "3 MG/IV", "3 RR/IV"], "as": ["row", "on"]}, {"filter": {"field": "on", "equal": 1}}],
    "mark": {"type": "circle", "size": 80, "color": "#3c3c3c", "opacity": 1},
    "encoding": {"x": {"field": "col", "type": "ordinal"}, "y": {"field": "row", "type": "nominal"}}}
  ]},

 {"width": 520, "height": 46, "data": {"values": []}, "mark": "point", "encoding": {}},
 {"width": 520, "height": 46, "data": {"values": []}, "mark": "point", "encoding": {}},
 {"width": 520, "height": 46, "data": {"values": []}, "mark": "point", "encoding": {}},

 {"width": 520, "height": 282,
  "title": {"text": "C", "anchor": "start", "frame": "group", "orient": "top", "offset": 14, "dx": -138, "fontSize": 30, "fontWeight": "bold"},
  "data": {"name": "ups"}, "transform": [{"filter": {"and": [{"field": "sp", "equal": "Bc"}, {"field": "dir", "equal": "DOWN"}]}}],
  "encoding": {"x": {"field": "col", "type": "ordinal", "scale": {"type": "band", "domain": [1,2,3,4,5,6,7,8,9,10,11,12,13,14,15], "paddingInner": 0.4, "paddingOuter": 0.68}, "axis": null}},
  "layer": [
   {"mark": {"type": "bar", "color": "#3b3b3b"}, "encoding": {"y": {"field": "n", "type": "quantitative", "scale": {"domain": [0, 702], "nice": false}, "axis": {"title": "DOWN", "titleFontSize": 40, "titleFontWeight": "bold", "titleX": -104, "values": [0, 200, 400, 600], "format": ",.0f", "labelFontSize": 32, "tickSize": 4, "labelPadding": 6, "domainWidth": 1.5}}}},
   {"mark": {"type": "text", "angle": 325, "align": "center", "baseline": "middle", "dx": 13.2, "dy": -18.8, "fontSize": 23}, "encoding": {"y": {"field": "n", "type": "quantitative"}, "text": {"field": "n", "type": "quantitative", "format": ",.0f"}}}
  ]},
 {"width": 520, "height": 282,
  "data": {"name": "ups"}, "transform": [{"filter": {"and": [{"field": "sp", "equal": "Fa"}, {"field": "dir", "equal": "DOWN"}]}}],
  "encoding": {"x": {"field": "col", "type": "ordinal", "scale": {"type": "band", "domain": [1,2,3,4,5,6,7,8,9,10,11,12,13,14,15], "paddingInner": 0.4, "paddingOuter": 0.68}, "axis": null}},
  "layer": [
   {"mark": {"type": "bar", "color": "#3b3b3b"}, "encoding": {"y": {"field": "n", "type": "quantitative", "scale": {"domain": [0, 1510], "nice": false}, "axis": {"title": null, "values": [0, 500, 1000, 1500], "format": ",.0f", "labelFontSize": 32, "tickSize": 4, "labelPadding": 6, "domainWidth": 1.5}}}},
   {"mark": {"type": "text", "angle": 325, "align": "center", "baseline": "middle", "dx": 13.2, "dy": -18.8, "fontSize": 23}, "encoding": {"y": {"field": "n", "type": "quantitative"}, "text": {"field": "n", "type": "quantitative", "format": ",.0f"}}}
  ]},
 {"width": 520, "height": 282,
  "data": {"name": "ups"}, "transform": [{"filter": {"and": [{"field": "sp", "equal": "Rs"}, {"field": "dir", "equal": "DOWN"}]}}],
  "encoding": {"x": {"field": "col", "type": "ordinal", "scale": {"type": "band", "domain": [1,2,3,4,5,6,7,8,9,10,11,12,13], "paddingInner": 0.4, "paddingOuter": 0.68}, "axis": null}},
  "layer": [
   {"mark": {"type": "bar", "color": "#3b3b3b"}, "encoding": {"y": {"field": "n", "type": "quantitative", "scale": {"domain": [0, 4115], "nice": false}, "axis": {"title": null, "values": [0, 1000, 2000, 3000, 4000], "format": ",.0f", "labelFontSize": 32, "tickSize": 4, "labelPadding": 6, "domainWidth": 1.5}}}},
   {"mark": {"type": "text", "angle": 325, "align": "center", "baseline": "middle", "dx": 13.2, "dy": -18.8, "fontSize": 23}, "encoding": {"y": {"field": "n", "type": "quantitative"}, "text": {"field": "n", "type": "quantitative", "format": ",.0f"}}}
  ]},

 {"width": 520, "height": 156,
  "layer": [
   {"data": {"name": "stripes"}, "mark": {"type": "rect", "color": "#f4f4f4"},
    "encoding": {"y": {"field": "row", "type": "nominal", "scale": {"type": "band", "domain": ["1 MG/IV", "1 RR/IV", "3 MG/IV", "3 RR/IV"], "paddingInner": 0, "paddingOuter": 0}, "axis": {"title": null, "domain": false, "ticks": false, "labelFontSize": 32, "labelPadding": 10}}}},
   {"data": {"name": "ups"}, "transform": [{"filter": {"and": [{"field": "sp", "equal": "Bc"}, {"field": "dir", "equal": "DOWN"}]}}, {"fold": ["1 MG/IV", "1 RR/IV", "3 MG/IV", "3 RR/IV"], "as": ["row", "on"]}, {"filter": {"field": "on", "equal": 0}}],
    "mark": {"type": "circle", "size": 80, "color": "#e1e1e1", "opacity": 1},
    "encoding": {"x": {"field": "col", "type": "ordinal", "scale": {"type": "band", "domain": [1,2,3,4,5,6,7,8,9,10,11,12,13,14,15], "paddingInner": 0.4, "paddingOuter": 0.68}, "axis": null}, "y": {"field": "row", "type": "nominal"}}},
   {"data": {"name": "ups"}, "transform": [{"filter": {"and": [{"field": "sp", "equal": "Bc"}, {"field": "dir", "equal": "DOWN"}]}}],
    "mark": {"type": "rule", "color": "#3c3c3c", "strokeWidth": 3.5},
    "encoding": {"x": {"field": "col", "type": "ordinal"}, "y": {"field": "lo", "type": "nominal"}, "y2": {"field": "hi"}}},
   {"data": {"name": "ups"}, "transform": [{"filter": {"and": [{"field": "sp", "equal": "Bc"}, {"field": "dir", "equal": "DOWN"}]}}, {"fold": ["1 MG/IV", "1 RR/IV", "3 MG/IV", "3 RR/IV"], "as": ["row", "on"]}, {"filter": {"field": "on", "equal": 1}}],
    "mark": {"type": "circle", "size": 80, "color": "#3c3c3c", "opacity": 1},
    "encoding": {"x": {"field": "col", "type": "ordinal"}, "y": {"field": "row", "type": "nominal"}}}
  ]},
 {"width": 520, "height": 156,
  "layer": [
   {"data": {"name": "stripes"}, "mark": {"type": "rect", "color": "#f4f4f4"},
    "encoding": {"y": {"field": "row", "type": "nominal", "scale": {"type": "band", "domain": ["1 MG/IV", "1 RR/IV", "3 MG/IV", "3 RR/IV"], "paddingInner": 0, "paddingOuter": 0}, "axis": {"title": null, "domain": false, "ticks": false, "labelFontSize": 32, "labelPadding": 10}}}},
   {"data": {"name": "ups"}, "transform": [{"filter": {"and": [{"field": "sp", "equal": "Fa"}, {"field": "dir", "equal": "DOWN"}]}}, {"fold": ["1 MG/IV", "1 RR/IV", "3 MG/IV", "3 RR/IV"], "as": ["row", "on"]}, {"filter": {"field": "on", "equal": 0}}],
    "mark": {"type": "circle", "size": 80, "color": "#e1e1e1", "opacity": 1},
    "encoding": {"x": {"field": "col", "type": "ordinal", "scale": {"type": "band", "domain": [1,2,3,4,5,6,7,8,9,10,11,12,13,14,15], "paddingInner": 0.4, "paddingOuter": 0.68}, "axis": null}, "y": {"field": "row", "type": "nominal"}}},
   {"data": {"name": "ups"}, "transform": [{"filter": {"and": [{"field": "sp", "equal": "Fa"}, {"field": "dir", "equal": "DOWN"}]}}],
    "mark": {"type": "rule", "color": "#3c3c3c", "strokeWidth": 3.5},
    "encoding": {"x": {"field": "col", "type": "ordinal"}, "y": {"field": "lo", "type": "nominal"}, "y2": {"field": "hi"}}},
   {"data": {"name": "ups"}, "transform": [{"filter": {"and": [{"field": "sp", "equal": "Fa"}, {"field": "dir", "equal": "DOWN"}]}}, {"fold": ["1 MG/IV", "1 RR/IV", "3 MG/IV", "3 RR/IV"], "as": ["row", "on"]}, {"filter": {"field": "on", "equal": 1}}],
    "mark": {"type": "circle", "size": 80, "color": "#3c3c3c", "opacity": 1},
    "encoding": {"x": {"field": "col", "type": "ordinal"}, "y": {"field": "row", "type": "nominal"}}}
  ]},
 {"width": 520, "height": 156,
  "layer": [
   {"data": {"name": "stripes"}, "mark": {"type": "rect", "color": "#f4f4f4"},
    "encoding": {"y": {"field": "row", "type": "nominal", "scale": {"type": "band", "domain": ["1 MG/IV", "1 RR/IV", "3 MG/IV", "3 RR/IV"], "paddingInner": 0, "paddingOuter": 0}, "axis": {"title": null, "domain": false, "ticks": false, "labelFontSize": 32, "labelPadding": 10}}}},
   {"data": {"name": "ups"}, "transform": [{"filter": {"and": [{"field": "sp", "equal": "Rs"}, {"field": "dir", "equal": "DOWN"}]}}, {"fold": ["1 MG/IV", "1 RR/IV", "3 MG/IV", "3 RR/IV"], "as": ["row", "on"]}, {"filter": {"field": "on", "equal": 0}}],
    "mark": {"type": "circle", "size": 80, "color": "#e1e1e1", "opacity": 1},
    "encoding": {"x": {"field": "col", "type": "ordinal", "scale": {"type": "band", "domain": [1,2,3,4,5,6,7,8,9,10,11,12,13], "paddingInner": 0.4, "paddingOuter": 0.68}, "axis": null}, "y": {"field": "row", "type": "nominal"}}},
   {"data": {"name": "ups"}, "transform": [{"filter": {"and": [{"field": "sp", "equal": "Rs"}, {"field": "dir", "equal": "DOWN"}]}}],
    "mark": {"type": "rule", "color": "#3c3c3c", "strokeWidth": 3.5},
    "encoding": {"x": {"field": "col", "type": "ordinal"}, "y": {"field": "lo", "type": "nominal"}, "y2": {"field": "hi"}}},
   {"data": {"name": "ups"}, "transform": [{"filter": {"and": [{"field": "sp", "equal": "Rs"}, {"field": "dir", "equal": "DOWN"}]}}, {"fold": ["1 MG/IV", "1 RR/IV", "3 MG/IV", "3 RR/IV"], "as": ["row", "on"]}, {"filter": {"field": "on", "equal": 1}}],
    "mark": {"type": "circle", "size": 80, "color": "#3c3c3c", "opacity": 1},
    "encoding": {"x": {"field": "col", "type": "ordinal"}, "y": {"field": "row", "type": "nominal"}}}
  ]}
]
}
